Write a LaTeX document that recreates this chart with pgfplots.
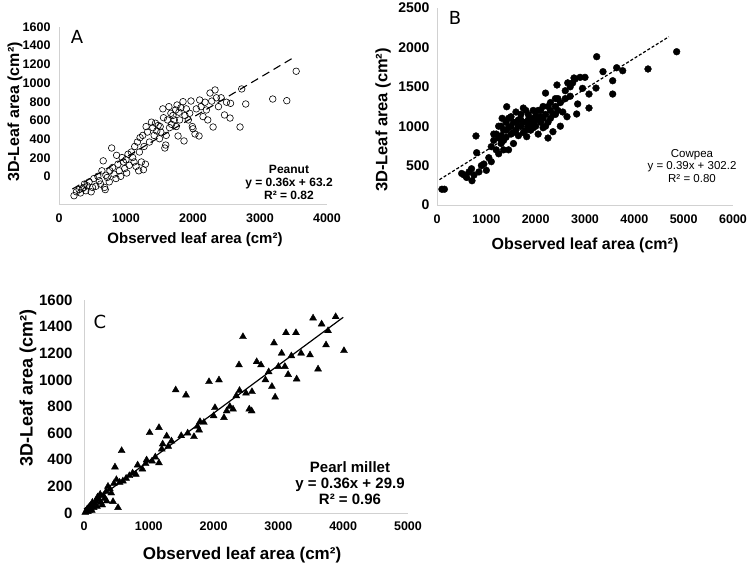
\documentclass[border=0pt]{standalone}
\usepackage{pgfplots}
\pgfplotsset{compat=1.18}
\usepackage{pgfplotstable}
\usepackage{fontspec}
\setmainfont{Liberation Sans}
\newfontfamily\letterfont{DejaVu Sans}

% Peanut: observed vs 3D leaf area
\pgfplotstableread{
x y
224 75
260 110
300 130
320 100
350 140
370 150
380 180
400 120
420 165
450 200
480 110
500 150
520 230
550 160
580 250
600 210
620 180
640 300
660 390
680 150
690 130
700 260
720 240
750 200
760 300
786 506
800 330
820 270
850 230
860 440
880 360
900 300
920 250
940 420
960 380
980 320
1000 400
1010 280
1030 450
1050 350
1080 470
1100 420
1120 380
1130 520
1150 340
1170 560
1190 300
1200 470
1210 600
1230 380
1250 620
1260 310
1270 520
1290 360
1300 700
1320 650
1350 560
1380 740
1400 690
1420 620
1440 730
1460 660
1480 710
1500 590
1510 700
1520 650
1550 860
1560 780
1580 506
1593 533
1600 620
1620 760
1640 880
1650 690
1670 820
1680 720
1700 800
1720 760
1740 850
1750 700
1762 895
1777 615
1790 830
1800 760
1820 870
1851 925
1866 570
1880 800
1900 860
1930 760
1950 820
1970 931
1990 700
2000 680
2030 633
2050 860
2090 615
2100 940
2120 880
2150 790
2180 920
2200 850
2220 760
2254 1003
2280 930
2300 696
2329 1031
2350 960
2380 880
2420 960
2470 805
2500 920
2553 777
2560 910
2702 696
2727 1040
2787 904
3190 949
3400 934
3540 1200
}\peanut

% Cowpea
\pgfplotstableread{
x y
100 200
150 200
500 400
550 380
600 350
650 420
700 460
709 308
750 380
790 876
804 664
850 420
900 500
950 520
1000 440
1050 600
1100 550
1100 740
1150 820
1150 900
1200 700
1200 900
1250 650
1250 850
1250 1000
1300 780
1300 880
1300 1000
1320 1100
1350 950
1350 700
1350 820
1400 860
1400 950
1400 1050
1413 1247
1450 700
1450 980
1450 1100
1500 900
1500 1000
1500 1120
1550 780
1550 920
1550 1050
1600 950
1600 1050
1600 1180
1650 880
1650 1000
1650 1080
1700 1000
1700 1080
1700 1150
1750 920
1750 1050
1750 1230
1800 950
1800 1050
1800 1200
1818 867
1850 1000
1850 1080
1850 1150
1900 950
1900 1020
1900 1100
1950 980
1950 1050
1950 1200
2000 1000
2000 1080
2000 1130
2050 900
2050 1100
2050 1200
2100 1050
2100 1120
2100 1200
2150 980
2150 1100
2150 1250
2200 1000
2200 1150
2200 1420
2250 850
2250 1050
2250 1250
2300 1100
2300 1200
2300 1300
2350 930
2350 1150
2400 1150
2400 1250
2400 1350
2432 1523
2450 1200
2450 1350
2500 1000
2500 1300
2550 1180
2600 1350
2600 1450
2635 1120
2650 1550
2700 1380
2700 1500
2750 1550
2777 1612
2800 1600
2831 1155
2851 1282
2900 1620
2950 1480
3000 1620
3081 1408
3081 1231
3223 1484
3237 1882
3365 1692
3561 1577
3561 1408
3642 1742
3764 1704
4277 1726
4858 1945
}\cowpea

% Pearl millet
\pgfplotstableread{
x y
20 5
40 15
50 30
60 10
70 40
80 20
90 50
100 30
110 60
120 20
130 80
150 40
160 70
180 90
200 50
210 120
230 100
250 140
260 80
280 60
300 130
320 110
340 160
350 90
370 200
400 180
420 150
448 85
460 220
478 345
500 250
525 40
550 230
581 468
600 240
650 260
700 280
750 300
800 290
828 360
900 330
950 370
966 398
1013 603
1050 390
1100 420
1157 376
1157 641
1200 480
1214 518
1276 578
1300 500
1350 540
1415 924
1500 580
1574 886
1600 600
1697 573
1750 650
1776 623
1790 686
1850 680
1929 986
2000 730
2021 791
2083 999
2160 716
2202 766
2250 800
2300 780
2350 880
2392 1112
2400 920
2453 1324
2500 900
2550 780
2588 766
2592 911
2665 1136
2731 1112
2800 1000
2850 1060
2900 950
2932 1277
2950 870
3000 1100
3050 1200
3100 1100
3117 1354
3150 1040
3200 1180
3271 1354
3282 1006
3350 1200
3488 1187
3535 1464
3612 1081
3667 1419
3735 1262
3766 1369
3884 1474
4012 1219
}\millet

\pgfplotsset{
  excel/.style={
    scale only axis,
    anchor=south west,
    axis x line*=bottom,
    axis y line*=left,
    axis line style={draw=black!18, line width=0.9pt, -},
    major tick length=0pt,
    /pgf/number format/assume math mode=true,
    /pgf/number format/1000 sep={},
    clip=false,
  },
}

\begin{document}
\begin{tikzpicture}
\path[use as bounding box] (0pt,0pt) rectangle (750pt,566pt);

% A: peanut
\begin{axis}[excel, at={(59pt,362pt)}, width=268pt, height=177pt,
  xticklabel style={font=\bfseries\fontsize{12.5}{12.5}\selectfont, yshift=-6pt},
  yticklabel style={font=\bfseries\fontsize{12.5}{12.5}\selectfont, xshift=-5pt},
  xmin=0, xmax=4000, ymin=0, ymax=1600,
  xtick={0,1000,2000,3000,4000},
  ytick={247,416,585,754,923,1092,1261,1431,1600},
  yticklabels={0,200,400,600,800,1000,1200,1400,1600}]
\addplot[only marks, mark=o, mark size=3.3pt, mark options={black, line width=0.6pt}] table {\peanut};
\addplot[black, line width=1.1pt, dash pattern=on 8pt off 5pt] coordinates {(200,135.2) (3520,1330.4)};
\end{axis}

% B: cowpea
\begin{axis}[excel, at={(437pt,361pt)}, width=296pt, height=197pt,
  xticklabel style={font=\bfseries\fontsize{12.5}{12.5}\selectfont, yshift=-6pt},
  yticklabel style={font=\bfseries\fontsize{14}{14}\selectfont, xshift=-4pt},
  xmin=0, xmax=6000, ymin=0, ymax=2500,
  xtick={0,1000,...,6000}, ytick={0,500,...,2500}]
\addplot[only marks, mark=*, mark size=3.4pt, mark options={black, fill=black}] table {\cowpea};
\addplot[black, line width=1.2pt, dash pattern=on 3pt off 2pt] coordinates {(50,321.7) (4700,2135.2)};
\end{axis}

% C: pearl millet
\begin{axis}[excel, at={(84pt,53pt)}, width=324pt, height=213pt,
  xticklabel style={font=\bfseries\fontsize{12.5}{12.5}\selectfont, yshift=-5pt},
  yticklabel style={font=\bfseries\fontsize{15}{15}\selectfont, xshift=-8pt},
  xmin=0, xmax=5000, ymin=0, ymax=1600,
  xtick={0,1000,...,5000}, ytick={0,200,...,1600}]
\addplot[only marks, mark=triangle*, mark size=4pt, mark options={black, fill=black}] table {\millet};
\addplot[black, line width=1.2pt] coordinates {(0,29.9) (4000,1469.9)};
\end{axis}

% axis titles
\node[rotate=90, font=\bfseries\fontsize{16}{16}\selectfont] at (15pt,454pt) {3D-Leaf area (cm²)};
\node[font=\bfseries\fontsize{15}{15}\selectfont] at (195pt,326pt) {Observed leaf area (cm²)};
\node[rotate=90, font=\bfseries\fontsize{16.5}{16.5}\selectfont] at (383pt,446pt) {3D-Leaf area (cm²)};
\node[font=\bfseries\fontsize{16}{16}\selectfont] at (585pt,321pt) {Observed leaf area (cm²)};
\node[rotate=90, font=\bfseries\fontsize{18}{18}\selectfont] at (28pt,178pt) {3D-Leaf area (cm²)};
\node[font=\bfseries\fontsize{17}{17}\selectfont] at (242pt,11pt) {Observed leaf area (cm²)};

% panel letters
\node[font=\letterfont\fontsize{18}{18}\selectfont] at (77pt,529pt) {A};
\node[font=\letterfont\fontsize{18}{18}\selectfont] at (455pt,548pt) {B};
\node[font=\letterfont\fontsize{18}{18}\selectfont] at (100pt,244pt) {C};

% fit annotations
\node[align=center, font=\bfseries\fontsize{12}{13}\selectfont] at (289pt,384pt) {Peanut\\y = 0.36x + 63.2\\R² = 0.82};
\node[align=center, font=\fontsize{11.5}{12.5}\selectfont] at (692pt,400pt) {Cowpea\\y = 0.39x + 302.2\\R² = 0.80};
\node[align=center, font=\bfseries\fontsize{15}{16}\selectfont] at (350pt,83pt) {Pearl millet\\y = 0.36x + 29.9\\R² = 0.96};
\end{tikzpicture}
\end{document}
